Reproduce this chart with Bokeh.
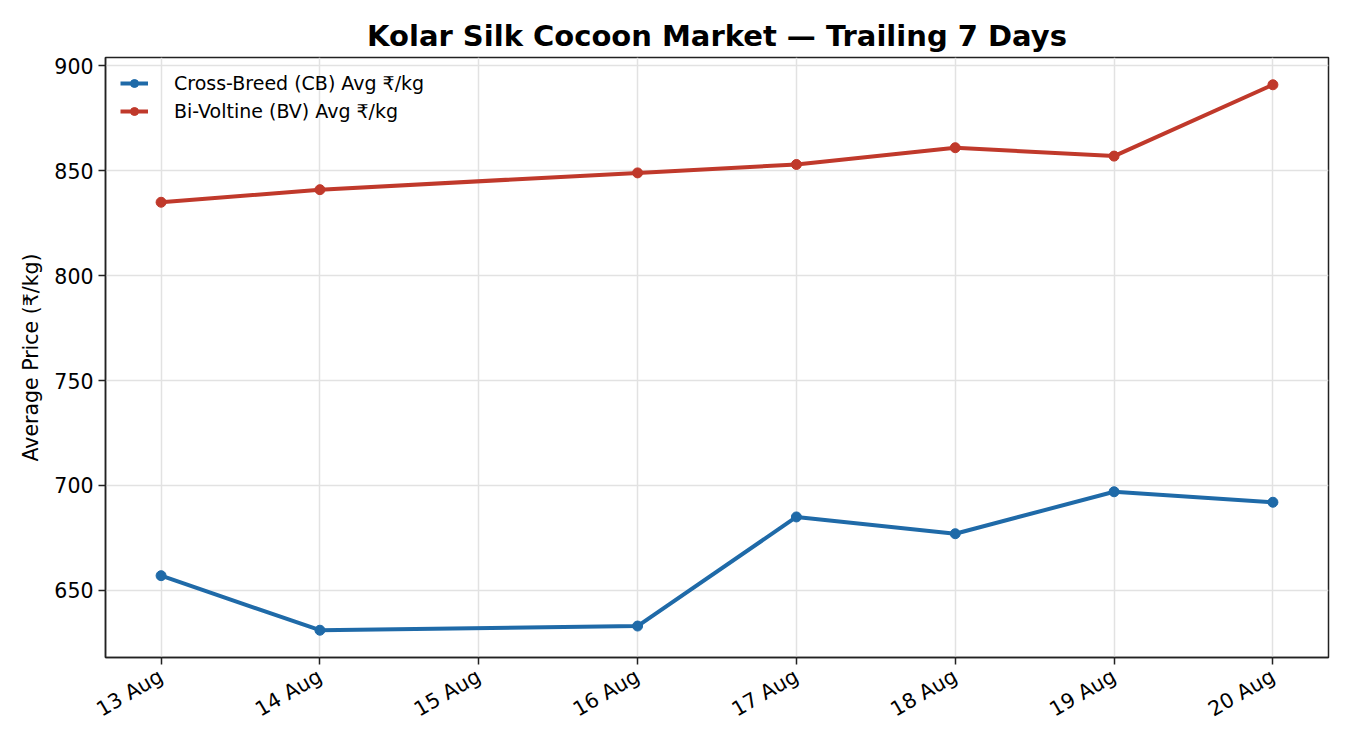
from datetime import datetime
import numpy as np
from bokeh.plotting import figure
from bokeh.models import (ColumnDataSource, FixedTicker, DatetimeTickFormatter,
                          Range1d, Legend, LegendItem)
from bokeh.embed import file_html
from bokeh.resources import INLINE

# ---- data ----
dates = ["2024-08-13", "2024-08-14", "2024-08-16", "2024-08-17",
         "2024-08-18", "2024-08-19", "2024-08-20"]
cb_avg = [657, 631, 633, 685, 677, 697, 692]
bv_avg = [835, 841, 849, 853, 861, 857, 891]
tick_dates = ["2024-08-13", "2024-08-14", "2024-08-15", "2024-08-16",
              "2024-08-17", "2024-08-18", "2024-08-19", "2024-08-20"]
y_ticks = [650, 700, 750, 800, 850, 900]

title = "Kolar Silk Cocoon Market \u2014 Trailing 7 Days"
cb_label = "Cross-Breed (CB) Avg \u20b9/kg"
bv_label = "Bi-Voltine (BV) Avg \u20b9/kg"
y_label = "Average Price (\u20b9/kg)"

CB_COLOR = "#1f6aa8"
BV_COLOR = "#c0392b"
FONT = "DejaVu Sans"

def to_ms(s):
    return datetime.strptime(s, "%Y-%m-%d").timestamp() * 1000.0

x = [datetime.strptime(d, "%Y-%m-%d") for d in dates]
src = ColumnDataSource(dict(x=x, cb=cb_avg, bv=bv_avg))

xs_ms = [to_ms(d) for d in tick_dates]
x0, x1 = xs_ms[0], xs_ms[-1]
pad = (x1 - x0) * 0.05
ymin, ymax = min(cb_avg + bv_avg), max(cb_avg + bv_avg)
ypad = (ymax - ymin) * 0.05

p = figure(width=1334, height=734, x_axis_type="datetime",
           output_backend="svg", toolbar_location=None,
           x_range=Range1d(x0 - pad, x1 + pad),
           y_range=Range1d(ymin - ypad, ymax + ypad),
           min_border_left=105, min_border_right=6,
           min_border_top=57, min_border_bottom=76)

p.title.text = title
p.title.align = "center"
p.title.text_font = FONT
p.title.text_font_size = "29px"
p.title.text_font_style = "bold"
p.title.text_color = "black"
p.title.standoff = 10

p.outline_line_color = "#222222"
p.outline_line_width = 1.5
p.background_fill_color = "white"
p.border_fill_color = "white"

for g in (p.xgrid, p.ygrid):
    g.grid_line_color = "#e2e2e2"
    g.grid_line_alpha = 1.0
    g.grid_line_width = 1.5

p.xaxis.ticker = FixedTicker(ticks=xs_ms)
p.xaxis.formatter = DatetimeTickFormatter(days="%d %b", months="%d %b",
                                          hours="%d %b")
p.xaxis.major_label_orientation = np.pi / 6
p.xaxis.major_label_standoff = 10
p.yaxis.ticker = FixedTicker(ticks=y_ticks)

for ax in (p.xaxis, p.yaxis):
    ax.axis_line_color = "#222222"
    ax.axis_line_width = 1.5
    ax.major_tick_line_color = "#222222"
    ax.major_tick_line_width = 1.5
    ax.major_tick_out = 7
    ax.major_tick_in = 0
    ax.minor_tick_line_color = None
    ax.major_label_text_font = FONT
    ax.major_label_text_font_size = "20.5px"
    ax.major_label_text_color = "black"

p.yaxis.axis_label = y_label
p.yaxis.axis_label_text_font = FONT
p.yaxis.axis_label_text_font_size = "20.5px"
p.yaxis.axis_label_text_font_style = "normal"
p.yaxis.axis_label_text_color = "black"
p.yaxis.axis_label_standoff = 8

cb_line = p.line("x", "cb", source=src, line_color=CB_COLOR, line_width=4)
cb_pts = p.scatter("x", "cb", source=src, size=10, fill_color=CB_COLOR,
                   line_color=CB_COLOR)
bv_line = p.line("x", "bv", source=src, line_color=BV_COLOR, line_width=4)
bv_pts = p.scatter("x", "bv", source=src, size=10, fill_color=BV_COLOR,
                   line_color=BV_COLOR)

legend = Legend(items=[LegendItem(label=cb_label, renderers=[cb_line, cb_pts]),
                       LegendItem(label=bv_label, renderers=[bv_line, bv_pts])],
                location="top_left")
legend.border_line_color = None
legend.background_fill_alpha = 0
legend.label_text_font = FONT
legend.label_text_font_size = "19px"
legend.label_text_color = "black"
legend.glyph_width = 28
legend.label_standoff = 26
legend.spacing = 6
legend.padding = 7
legend.margin = 15
p.add_layout(legend)

open("out.html", "w").write(file_html(p, INLINE))
